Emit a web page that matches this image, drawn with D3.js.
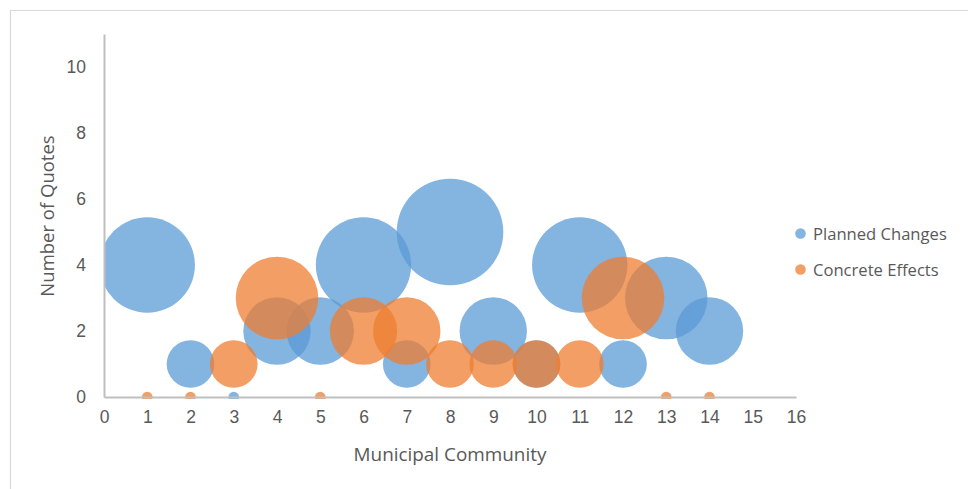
<!DOCTYPE html>
<html>
<head>
<meta charset="utf-8">
<script src="https://cdn.jsdelivr.net/npm/d3@7"></script>
<style>
  html, body { margin: 0; padding: 0; background: #fff; }
  svg { display: block; font-family: "Open Sans", "DejaVu Sans", sans-serif; }
</style>
</head>
<body>
<svg id="chart" width="968" height="489"></svg>
<script>
// ---- data ----
const communities = [1, 2, 3, 4, 5, 6, 7, 8, 9, 10, 11, 12, 13, 14];
const plannedChanges = [4, 1, 0, 2, 2, 4, 1, 5, 2, 1, 4, 1, 3, 2];
const concreteEffects = [0, 0, 1, 3, 0, 2, 2, 1, 1, 1, 1, 3, 0, 0];
const seriesNames = ["Planned Changes", "Concrete Effects"];
const xTicks = [0, 1, 2, 3, 4, 5, 6, 7, 8, 9, 10, 11, 12, 13, 14, 15, 16];
const yTicks = [0, 2, 4, 6, 8, 10];
const xTitle = "Municipal Community";
const yTitle = "Number of Quotes";

// ---- layout ----
const colors = ["#5B9BD5", "#ED7D31"];
const svg = d3.select("#chart");
const x = d3.scaleLinear().domain([0, 16]).range([104, 796]);
const y = d3.scaleLinear().domain([0, 11]).range([397, 34]);
const r = d3.scaleSqrt().domain([0, 5]).range([0, 53.3]);
const minR = 5.3;

// chart border
svg.append("path")
  .attr("d", "M10.5,489 L10.5,10.5 L968,10.5")
  .attr("fill", "none").attr("stroke", "#d9d9d9").attr("stroke-width", 1.2);

// clip to plot area
svg.append("defs").append("clipPath").attr("id", "plotClip")
  .append("rect").attr("x", 104).attr("y", 0).attr("width", 692).attr("height", 399);

const plot = svg.append("g").attr("clip-path", "url(#plotClip)");
const allSeries = [plannedChanges, concreteEffects];
allSeries.forEach((vals, si) => {
  plot.append("g").selectAll("circle")
    .data(communities.map((c, i) => ({ c, v: vals[i] })))
    .join("circle")
    .attr("cx", d => x(d.c))
    .attr("cy", d => y(d.v))
    .attr("r", d => Math.max(minR, r(d.v)))
    .attr("fill", colors[si])
    .attr("fill-opacity", 0.75);
});

// axes
const xAxis = d3.axisBottom(x).tickValues(xTicks).tickSize(0).tickPadding(14);
const gx = svg.append("g").attr("transform", "translate(0,397)").call(xAxis);
gx.select(".domain").attr("stroke", "#bfbfbf").attr("stroke-width", 2);
gx.selectAll("text").attr("fill", "#595959").style("font-size", "17.5px");

const yAxis = d3.axisLeft(y).tickValues(yTicks).tickSize(0).tickPadding(18);
const gy = svg.append("g").attr("transform", "translate(104,0)").call(yAxis);
gy.select(".domain").attr("stroke", "#bfbfbf").attr("stroke-width", 2);
gy.selectAll("text").attr("fill", "#595959").style("font-size", "17.5px");

// axis titles
svg.append("text")
  .attr("x", 450).attr("y", 461)
  .attr("text-anchor", "middle")
  .attr("fill", "#595959").style("font-size", "18.9px")
  .text(xTitle);
svg.append("text")
  .attr("transform", "translate(54,216) rotate(-90)")
  .attr("text-anchor", "middle")
  .attr("fill", "#595959").style("font-size", "18.5px")
  .text(yTitle);

// legend
const legend = svg.append("g");
seriesNames.forEach((name, i) => {
  const cy = 233.5 + i * 36;
  legend.append("circle").attr("cx", 800.5).attr("cy", cy).attr("r", 5.3)
    .attr("fill", colors[i]).attr("fill-opacity", 0.75);
  legend.append("text").attr("x", 813).attr("y", cy + 6.5)
    .attr("fill", "#595959").style("font-size", "16.6px")
    .text(name);
});
</script>
</body>
</html>
